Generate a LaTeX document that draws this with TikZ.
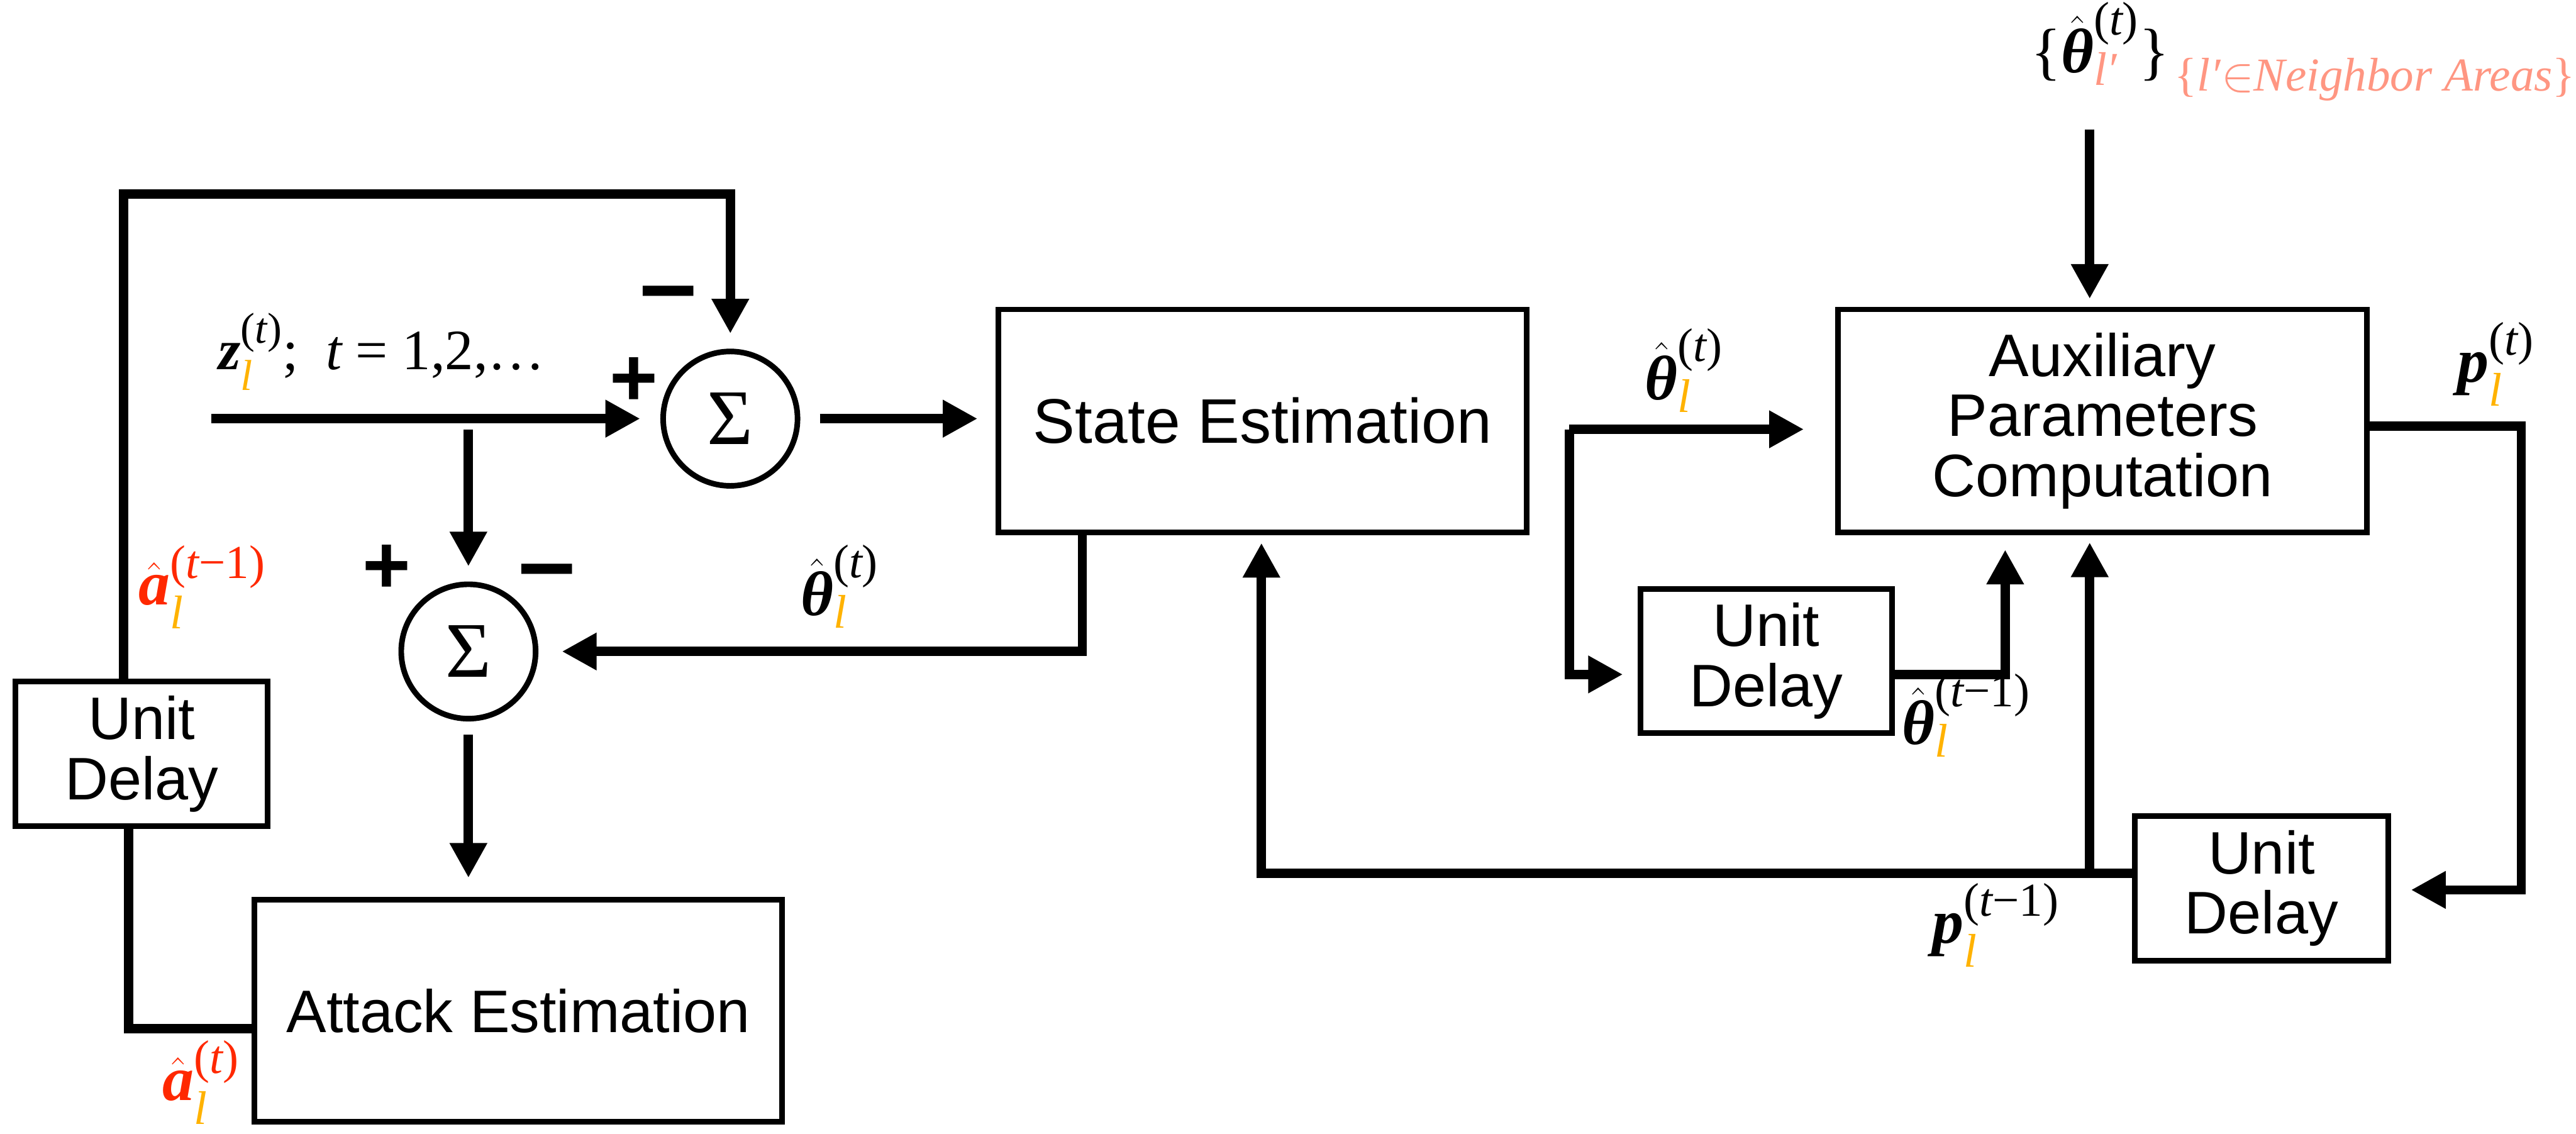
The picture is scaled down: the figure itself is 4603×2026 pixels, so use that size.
\documentclass[tikz,border=0pt]{standalone}
\usepackage{amsmath}
\usepackage[no-math]{fontspec}
\setmainfont{Liberation Sans}
\newfontfamily\tms{Liberation Serif}
\usetikzlibrary{arrows.meta,calc}
\definecolor{idxorange}{RGB}{255,178,0}
\definecolor{atkred}{RGB}{255,40,0}
\definecolor{nbsalmon}{RGB}{255,150,130}
% larger scripts for the signal names
\DeclareMathSizes{29}{29}{22}{17}
\DeclareMathSizes{32}{32}{24}{19}
% Times-like pieces for the signal names
\newcommand\tmr[1]{\text{\tms #1}}
\newcommand\tmi[1]{\text{\tms\itshape #1}}
\newcommand\tmb[1]{\text{\tms\bfseries\itshape #1}}
\newcommand\lidx{\text{\tms\itshape\color{idxorange}l}}
\newcommand\tsup[1]{\tmr{(}\tmi{t}\tmr{#1)}}
\begin{document}
\begin{tikzpicture}[x=0.01cm,y=-0.01cm,
  wire/.style={line width=0.165cm},
  arr/.style={wire,-{Triangle[length=0.62cm,width=0.63cm]}},
  blk/.style={draw,line width=0.1cm,inner sep=0,align=center,
              font=\fontsize{30.5}{30.5}\selectfont},
  sumnode/.style={draw,circle,line width=0.1cm,minimum size=2.4cm,inner sep=0,
              font=\fontsize{40}{40}\selectfont\tms},
  lbl/.style={inner sep=0,font=\fontsize{32}{32}\selectfont},
  sgn/.style={inner sep=0,font=\fontsize{42}{42}\selectfont\bfseries},
  dsh/.style={inner sep=0,font=\fontsize{52}{52}\selectfont\bfseries}]
\useasboundingbox (0,0) rectangle (4603,2026);

% blocks
\node[blk,minimum width=9.44cm,minimum height=3.98cm,font=\fontsize{32}{32}\selectfont]
  (se)  at (2256,752)  {State Estimation};
\node[blk,minimum width=9.43cm,minimum height=3.97cm] (ae)  at (926,1806)  {Attack Estimation};
\node[blk,minimum width=9.45cm,minimum height=3.98cm] (apc) at (3757,752)  {Auxiliary\\Parameters\\Computation};
\node[blk,minimum width=4.50cm,minimum height=2.58cm] (udl) at (253,1347)  {Unit\\Delay};
\node[blk,minimum width=4.50cm,minimum height=2.57cm] (udm) at (3156,1181) {Unit\\Delay};
\node[blk,minimum width=4.52cm,minimum height=2.58cm] (udr) at (4041,1587) {Unit\\Delay};

% summing junctions
\node[sumnode] (s1) at (1305,748)  {Σ};
\node[sumnode] (s2) at (837,1164)  {Σ};

% signs at the junctions
\node[sgn] (s1plus)  at (1133,682)  {+};
\node[dsh] (s1minus) at (1194,540)  {–};
\node[sgn] (s2plus)  at (691,1017)  {+};
\node[dsh] (s2minus) at (977,1037)  {–};

% bend and branch points
\coordinate (zin) at (378,748);
\coordinate (br)  at (837,768);
\coordinate (tl)  at (221,347);
\coordinate (tr)  at (1305,347);
\coordinate (sb)  at (1934,1164);
\coordinate (al)  at (230,1838);
\coordinate (th)  at (2804,767);
\coordinate (tc)  at (2804,1205);
\coordinate (mo)  at (3583,1205);
\coordinate (nb)  at (3734,231);
\coordinate (pr)  at (4505,761);
\coordinate (pb)  at (4505,1590);
\coordinate (bl)  at (2254,1560);
\coordinate (bu)  at (3734,1560);

% left part
\draw[arr,shorten >=0.36cm] (zin) -- (s1.west);
\draw[arr,shorten >=0.27cm] (br) -- (br |- s2.north);
\draw[arr,shorten >=0.27cm] (udl.north -| tl) -- (tl) -- (tr) -- (s1.north);
\draw[arr,shorten <=0.35cm,shorten >=0.32cm] (s1.east) -- (s1.east -| se.west);
\draw[arr,shorten >=0.42cm] (se.south -| sb) -- (sb) -- (s2.east);
\draw[arr,shorten <=0.24cm,shorten >=0.34cm] (s2.south) -- (s2.south |- ae.north);
\draw[wire] (udl.south -| al) -- (al) -- (al -| ae.west);

% right part
\draw[arr,shorten >=0.56cm] (th) -- (th -| apc.west);
\draw[arr,shorten >=0.26cm] (th) -- (tc) -- (tc -| udm.west);
\draw[arr,shorten >=0.26cm] (mo -| udm.east) -- (mo) -- (mo |- apc.south);
\draw[arr,shorten >=0.14cm] (nb) -- (nb |- apc.north);
\draw[arr,shorten >=0.36cm] (pr -| apc.east) -- (pr) -- (pb) -- (pb -| udr.east);
\draw[arr,shorten >=0.14cm] (bl -| udr.west) -- (bl) -- (bl |- se.south);
\draw[arr,shorten >=0.13cm] (bu) -- (bu |- apc.south);

% signal labels
\node[lbl,anchor=base west,font=\fontsize{29}{29}\selectfont] (lz) at (390,660)
  {$\tmb{z}_{\lidx}^{\tsup{}}\tmr{;}\;\;\tmi{t}\tmr{ = 1,2,…}$};
\node[lbl,anchor=base west] (lap) at (247,1081)
  {\color{atkred}$\hat{\tmb{a}}_{\lidx}^{\tsup{−1}}$};
\node[lbl,anchor=base west] (la) at (290,1966)
  {\color{atkred}$\hat{\tmb{a}}_{\lidx}^{\tsup{}}$};
\node[lbl,anchor=base west] (lth1) at (1430,1100)
  {$\hat{\tmb{θ}}_{\lidx}^{\tsup{}}$};
\node[lbl,anchor=base west] (lth2) at (2939,714)
  {$\hat{\tmb{θ}}_{\lidx}^{\tsup{}}$};
\node[lbl,anchor=base west] (lth3) at (3398,1330)
  {$\hat{\tmb{θ}}_{\lidx}^{\tsup{−1}}$};
\node[lbl,anchor=base west] (lp1) at (4390,683)
  {$\tmb{p}_{\lidx}^{\tsup{}}$};
\node[lbl,anchor=base west] (lp2) at (3452,1685)
  {$\tmb{p}_{\lidx}^{\tsup{−1}}$};
\node[lbl,anchor=base west] (lnb) at (3628,130)
  {$\tmr{\{}\hat{\tmb{θ}}_{\text{\tms\itshape\color{nbsalmon}l′}}^{\tsup{}}\tmr{\}}$};
\node[inner sep=0,anchor=base west,font=\fontsize{24}{24}\selectfont\tms\color{nbsalmon}] (lnbs) at (3885,162)
  {\{\textit{l′}$\in$\textit{Neighbor Areas}\}};
\end{tikzpicture}
\end{document}
